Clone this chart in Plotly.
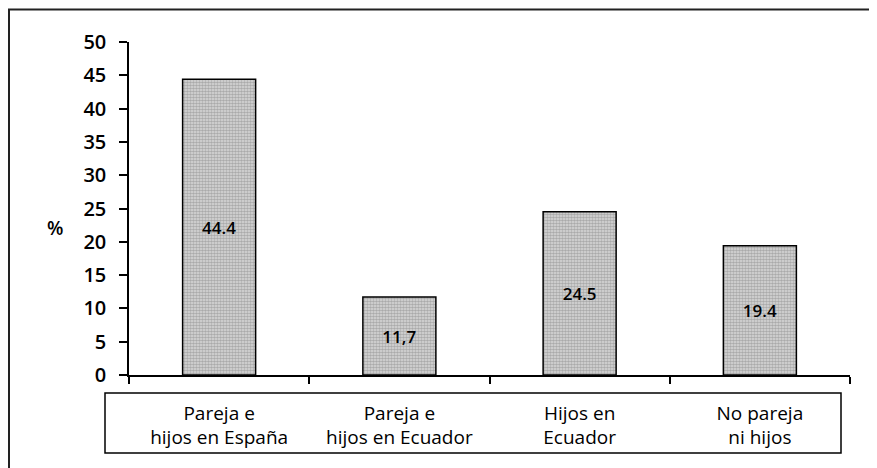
import plotly.graph_objects as go

categories = ["Pareja e<br>hijos en España", "Pareja e<br>hijos en Ecuador", "Hijos en<br>Ecuador", "No pareja<br>ni hijos"]
values = [44.4, 11.7, 24.5, 19.4]
value_labels = ["44.4", "11,7", "24.5", "19.4"]
y_ticks = [0, 5, 10, 15, 20, 25, 30, 35, 40, 45, 50]

# page has an 8px body margin: figure origin is at page (8, 8)
OFF = 8
W, H = 877 - OFF, 468 - OFF
L, R, T, B = 129 - OFF, 27, 42 - OFF, 93
pw, ph = W - L - R, H - T - B

def px(x):
    return (x - OFF - L) / pw

def py(y):
    return (H - B - (y - OFF)) / ph

font = "Open Sans, Noto Sans, sans-serif"

fig = go.Figure()
fig.add_trace(go.Bar(
    x=categories, y=values, text=value_labels,
    textposition="inside", insidetextanchor="middle",
    textfont=dict(size=17, color="black", family=font, weight=600),
    width=0.405,
    marker=dict(
        color="#d0d0d0",
        line=dict(color="black", width=1.5),
        pattern=dict(shape=".", size=3, solidity=0.6, fgcolor="#777", bgcolor="#dcdcdc"),
    ),
    showlegend=False,
))

fig.update_layout(
    width=W, height=H,
    margin=dict(l=L, r=R, t=T, b=B),
    paper_bgcolor="white", plot_bgcolor="white",
    font=dict(family=font, color="black"),
    xaxis=dict(
        type="category", tickson="boundaries", ticks="outside", ticklen=7,
        tickcolor="black", tickwidth=1.5, showline=True, linecolor="black", linewidth=1.5,
        showgrid=False, tickfont=dict(size=19, family=font, color="black"),
        ticklabelstandoff=20, range=[-0.5, 3.5],
    ),
    yaxis=dict(
        range=[0, 50], tickvals=y_ticks, ticks="outside", ticklen=8, tickcolor="black",
        tickwidth=1.5, showline=True, linecolor="black", linewidth=1.5, showgrid=False,
        zeroline=False, tickfont=dict(size=20, family=font, color="black", weight=600),
        ticklabelstandoff=9,
    ),
    shapes=[
        dict(type="rect", xref="paper", yref="paper", x0=px(105), x1=px(841), y0=py(453), y1=py(393),
             line=dict(color="black", width=1.5)),
        dict(type="path", xref="paper", yref="paper",
             path=f"M {px(9)} {py(470)} L {px(9)} {py(9.5)} L {px(880)} {py(9.5)}",
             line=dict(color="#222", width=2)),
    ],
    annotations=[
        dict(text="%", xref="paper", yref="paper", x=px(45), y=py(228), showarrow=False,
             font=dict(size=19, family=font, color="black", weight=600)),
    ],
)

fig.write_html("out.html")
